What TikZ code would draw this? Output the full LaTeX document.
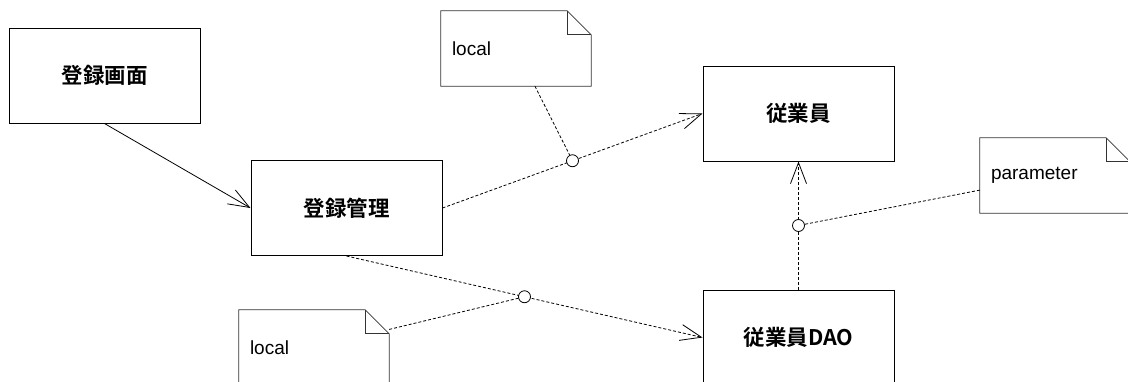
\documentclass[tikz,border=0pt]{standalone}
\usepackage{fontspec}
\setmainfont{Liberation Sans}
\newfontfamily\cjk[BoldFont={Noto Sans CJK JP Bold}]{Noto Sans CJK JP}
\usetikzlibrary{arrows.meta}
\begin{document}
\begin{tikzpicture}[x=1pt,y=-1pt,
  classbox/.style={draw, line width=1pt, fill=white, minimum width=191pt, minimum height=95pt, inner sep=0pt, font=\cjk\bfseries\fontsize{21.5}{23}\selectfont},
  notebox/.style={minimum width=150pt, minimum height=75pt, inner xsep=11pt, inner ysep=0pt, text width=128pt, align=left, font=\fontsize{19}{21}\selectfont},
  noteline/.style={line width=0.8pt, draw=black!80},
  solidarrow/.style={line width=0.8pt, -{Straight Barb[length=21pt,width=16pt,line width=0.8pt]}},
  dasharrow/.style={line width=0.8pt, dash pattern=on 3pt off 2pt, -{Straight Barb[length=21pt,width=16pt,line width=0.8pt]}},
  dashline/.style={line width=0.8pt, dash pattern=on 3pt off 2pt},
  circ/.style={circle, draw, solid, line width=0.8pt, fill=white, minimum size=12pt, inner sep=0pt}
]
\useasboundingbox (0,0) rectangle (1128,381);

\node[classbox] (A) at (104.5,75.5) {登録画面};
\node[classbox] (B) at (346.5,208) {登録管理};
\node[classbox] (C) at (798.5,113.5) {従業員};
\node[classbox] (D) at (798.5,337.5) {従業員DAO};

\node[notebox] (N1) at (516,48.5) {local};
\node[notebox] (N2) at (1055,175.5) {parameter};
\node[notebox] (N3) at (314,347.5) {local};

\foreach \n in {N1,N2,N3} {
  \draw[noteline] (\n.north west) -- ([xshift=-24pt]\n.north east) -- ([yshift=-24pt]\n.north east) -- (\n.south east) -- (\n.south west) -- cycle;
  \draw[noteline] ([xshift=-24pt]\n.north east) |- ([yshift=-24pt]\n.north east);
}

\draw[solidarrow] (A.south) -- (B.west);
\draw[dasharrow] (B.east) -- node[circ] (c1) {} (C.west);
\draw[dasharrow] (B.south) -- node[circ] (c2) {} (D.west);
\draw[dasharrow] (D.north) -- node[circ] (c3) {} (C.south);

\draw[dashline] (N1) -- (c1);
\draw[dashline] (N3) -- (c2);
\draw[dashline] (N2) -- (c3);
\end{tikzpicture}
\end{document}
